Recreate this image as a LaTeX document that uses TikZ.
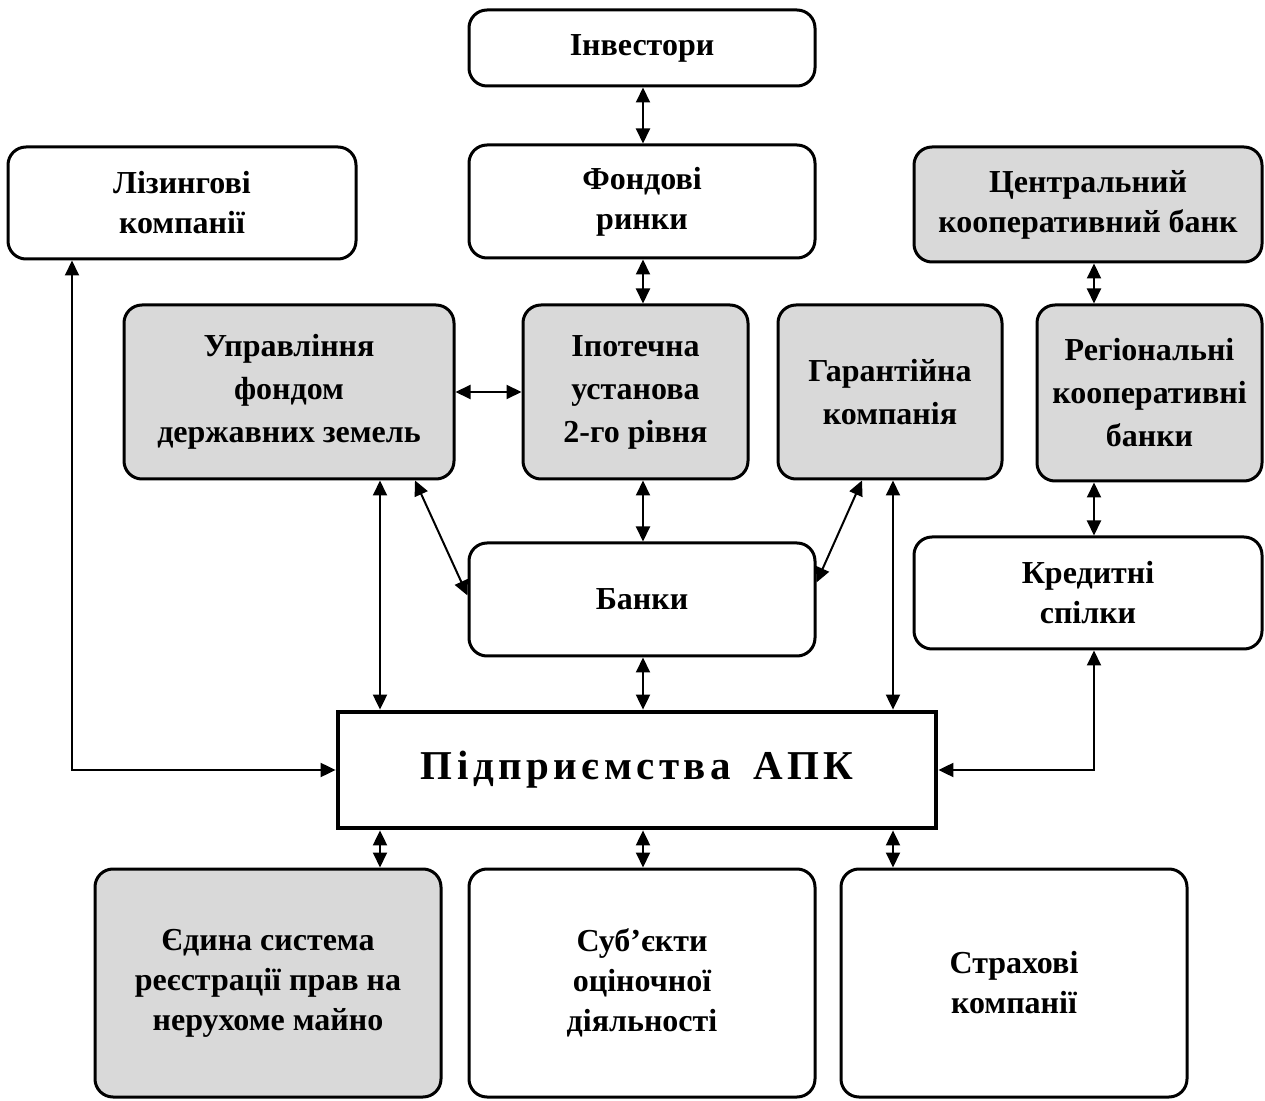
\documentclass[tikz,border=0pt]{standalone}
\usepackage{fontspec}
\setmainfont{Liberation Serif}
\usetikzlibrary{arrows.meta,calc}
\definecolor{boxgray}{HTML}{D9D9D9}
\tikzset{
  box/.style={draw, line width=1.5pt, rounded corners=9pt, align=center,
    font=\fontsize{16}{20}\selectfont\bfseries, inner sep=1pt},
  gbox/.style={box, fill=boxgray},
  midrow/.style={font=\fontsize{16}{21.5}\selectfont\bfseries},
  mainbox/.style={draw, line width=2.4pt, align=center, inner sep=0pt},
  arr/.style={line width=1pt, {Triangle[length=7.5pt,width=7pt]}-{Triangle[length=7.5pt,width=7pt]}},
  arr1/.style={arr, rounded corners=0pt}
}
\begin{document}
\begin{tikzpicture}[x=0.5pt,y=-0.5pt]
\useasboundingbox (0,0) rectangle (1265,1101);
\fill[white] (0,0) rectangle (1265,1101);
\coordinate (cx0) at (72,0);
\coordinate (cx1) at (380,0);
\coordinate (cx2) at (643,0);
\coordinate (cx3) at (893,0);
\coordinate (cx4) at (1094,0);

\node[box, minimum width=173pt, minimum height=38pt] (inv) at (642,48) {Інвестори};
\node[box, minimum width=173pt, minimum height=56.5pt] (fond) at (642,201.5) {Фондові\\ринки};
\node[box, minimum width=174pt, minimum height=56pt] (liz) at (182,203) {Лізингові\\компанії};
\node[gbox, minimum width=174pt, minimum height=57.5pt] (cb) at (1088,204.5) {Центральний\\кооперативний банк};
\node[gbox, midrow, minimum width=165pt, minimum height=87pt] (upr) at (289,392) {Управління\\фондом\\державних земель};
\node[gbox, midrow, minimum width=112.5pt, minimum height=87pt] (ipo) at (635.5,392) {Іпотечна\\установа\\2-го рівня};
\node[gbox, midrow, minimum width=112pt, minimum height=87pt] (gar) at (890,392) {Гарантійна\\компанія};
\node[gbox, midrow, minimum width=112.5pt, minimum height=88pt] (reg) at (1149.5,393) {Регіональні\\кооперативні\\банки};
\node[box, minimum width=173pt, minimum height=56.5pt] (bank) at (642,599.5) {Банки};
\node[box, minimum width=174pt, minimum height=56pt] (kred) at (1088,593) {Кредитні\\спілки};
\node[mainbox, minimum width=299pt, minimum height=58pt] (apk) at (637,770)
  {\fontsize{20.5}{24}\selectfont\bfseries\addfontfeature{LetterSpace=11}Підприємства\hspace{0.2em} АПК};
\node[gbox, minimum width=173pt, minimum height=114pt] (edyn) at (268,983) {Єдина система\\реєстрації прав на\\нерухоме майно};
\node[box, minimum width=173pt, minimum height=114pt] (sub) at (642,983) {Суб’єкти\\оціночної\\діяльності};
\node[box, minimum width=173pt, minimum height=114pt] (strah) at (1014,983) {Страхові\\компанії};

\draw[arr] (inv.south -| cx2) -- (fond.north -| cx2);
\draw[arr] (fond.south -| cx2) -- (ipo.north -| cx2);
\draw[arr] (cb.south -| cx4) -- (reg.north -| cx4);
\draw[arr] (upr.east) -- (ipo.west);
\draw[arr] (upr.south -| cx1) -- (apk.north -| cx1);
\draw[arr] ($(upr.south)+(126,0)$) -- ($(bank.west)+(0,-4)$);
\draw[arr] (ipo.south -| cx2) -- (bank.north -| cx2);
\draw[arr] ($(gar.south)+(-28,0)$) -- ($(bank.east)+(0,-17)$);
\draw[arr] (gar.south -| cx3) -- (apk.north -| cx3);
\draw[arr] (reg.south -| cx4) -- (kred.north -| cx4);
\draw[arr] (bank.south -| cx2) -- (apk.north -| cx2);
\draw[arr1] (liz.south -| cx0) |- (apk.west);
\draw[arr1] (kred.south -| cx4) |- (apk.east);
\draw[arr] (apk.south -| cx1) -- (edyn.north -| cx1);
\draw[arr] (apk.south -| cx2) -- (sub.north -| cx2);
\draw[arr] (apk.south -| cx3) -- (strah.north -| cx3);
\end{tikzpicture}
\end{document}
